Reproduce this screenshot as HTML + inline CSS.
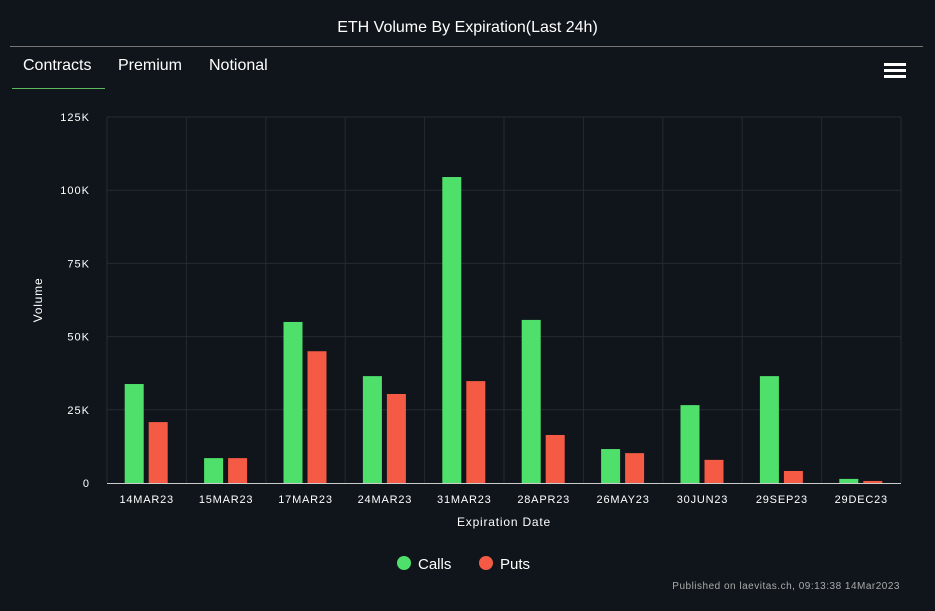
<!DOCTYPE html>
<html><head><meta charset="utf-8"><style>
html,body{margin:0;padding:0;background:#0f151b;width:935px;height:611px;overflow:hidden;font-family:"Liberation Sans",sans-serif;color:#fff}
.title{position:absolute;left:0;width:935px;top:19px;text-align:center;font-size:16px}
.hr{position:absolute;left:10px;width:913px;top:46px;height:1px;background:#777}
.tab{position:absolute;top:57px;font-size:16px}
.ul{position:absolute;left:12px;top:88px;width:93px;height:1px;background:#5cb85c}
.menu{position:absolute;left:884px;top:63px;width:22px}
.menu div{height:3px;background:#fff;margin-bottom:3px}
svg{position:absolute;left:0;top:0}
</style></head><body>
<div class="title">ETH Volume By Expiration(Last 24h)</div>
<div class="hr"></div>
<div class="tab" style="left:23px">Contracts</div>
<div class="tab" style="left:118px">Premium</div>
<div class="tab" style="left:209px">Notional</div>
<div class="ul"></div>
<div class="menu"><div></div><div></div><div></div></div>
<svg id="c" width="935" height="611"></svg>
<script>
const categories=["14MAR23","15MAR23","17MAR23","24MAR23","31MAR23","28APR23","26MAY23","30JUN23","29SEP23","29DEC23"];
const calls=[33800,8500,55000,36500,104500,55700,11600,26600,36500,1400];
const puts=[20800,8500,45000,30400,34800,16400,10200,7900,4100,700];
const yTicks=[0,25000,50000,75000,100000,125000];
const yTickLabels=["0","25K","50K","75K","100K","125K"];
const NS="http://www.w3.org/2000/svg";
const svg=document.getElementById('c');
const L=107,R=901,T=117,B=483,yMax=125000;
const y=v=>B-v/yMax*(B-T);
const band=(R-L)/categories.length;
const x=i=>L+band*(i+0.5);
function mk(t,a){const e=document.createElementNS(NS,t);for(const k in a)e.setAttribute(k,a[k]);svg.appendChild(e);return e;}
yTicks.forEach((v,i)=>{
  if(v>0){const g=mk('line',{x1:L,x2:R,y1:y(v),y2:y(v),stroke:'#262b30','stroke-width':1});
  
  }
  const t=mk('text',{x:90,y:y(v)+4,'text-anchor':'end',fill:'#fff','font-size':11,'letter-spacing':'1'});
  t.textContent=yTickLabels[i];
  
  
});
for(let i=0;i<=categories.length;i++){
  const g=mk('line',{x1:L+band*i,x2:L+band*i,y1:T,y2:B,stroke:'#262b30','stroke-width':1});
  
  
}
const ax=mk('line',{x1:L,x2:R,y1:B+0.5,y2:B+0.5,stroke:'#ccc','stroke-width':1});


const bw=19;
categories.forEach((c,i)=>{
  const b1=mk('rect',{x:x(i)-bw-3,y:y(calls[i]),width:bw,height:B-y(calls[i]),fill:'#4fe06b'});
  
  
  const b2=mk('rect',{x:x(i)+2,y:y(puts[i]),width:bw,height:B-y(puts[i]),fill:'#f55a45'});
  
  
  const t=mk('text',{x:x(i),y:503,'text-anchor':'middle',fill:'#fff','font-size':11,'letter-spacing':'0.8'});
  t.textContent=c;
  
  
});
const xt=mk('text',{x:504,y:526,'text-anchor':'middle',fill:'#fff','font-size':12,'letter-spacing':'0.8'});
xt.textContent='Expiration Date';


const yt=mk('text',{x:0,y:0,'text-anchor':'middle',fill:'#fff','font-size':12,'letter-spacing':'0.8',transform:'translate(42,300) rotate(-90)'});
yt.textContent='Volume';


[["Calls","#4fe06b",404],["Puts","#f55a45",486]].forEach(([n,col,cx])=>{
  const c=mk('circle',{cx:cx,cy:563,r:7,fill:col});
  
  
  const t=mk('text',{x:cx+14,y:569,fill:'#fff','font-size':15});
  t.textContent=n;
  
  
});
const cr=mk('text',{x:900,y:589,'text-anchor':'end',fill:'#aaa','font-size':10,'letter-spacing':'0.5'});
cr.textContent='Published on laevitas.ch, 09:13:38 14Mar2023';


</script>
</body></html>
